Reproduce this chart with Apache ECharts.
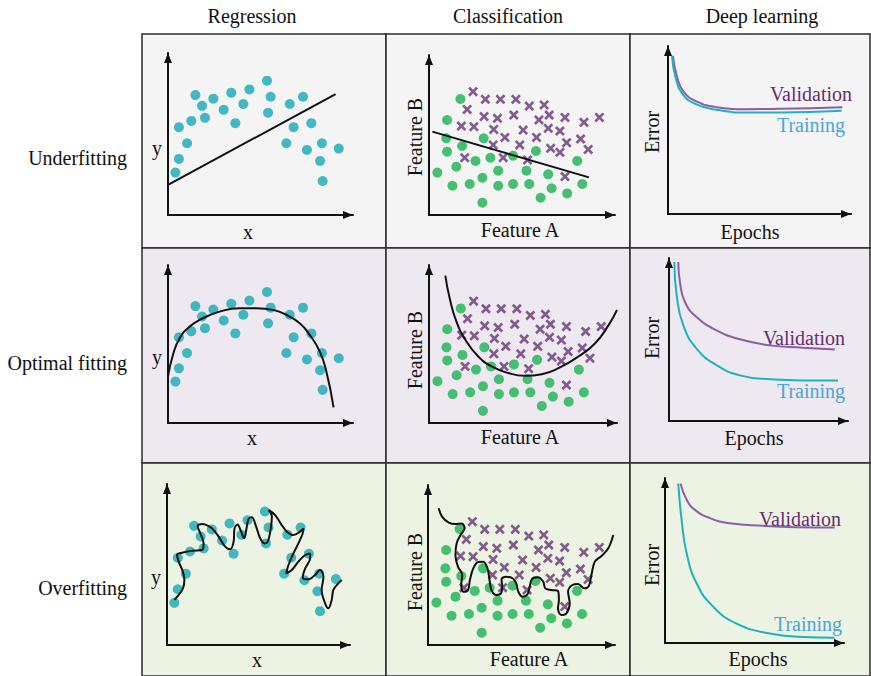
<!DOCTYPE html>
<html>
<head>
<meta charset="utf-8">
<script src="https://cdn.jsdelivr.net/npm/echarts@6/dist/echarts.min.js"></script>
<style>
  html, body { margin: 0; padding: 0; background: #ffffff; }
  #chart { width: 871px; height: 676px; }
</style>
</head>
<body>
<div id="chart"></div>
<script>
// ---- Labels ----
const columnTitles = ['Regression', 'Classification', 'Deep learning'];
const rowTitles = ['Underfitting', 'Optimal fitting', 'Overfitting'];
const regressionAxisNames = ['x', 'y'];
const classificationAxisNames = ['Feature A', 'Feature B'];
const learningAxisNames = ['Epochs', 'Error'];
const curveNames = ['Validation', 'Training'];

// ---- Regression: noisy samples (x, y) on a 0–10 scale ----
const regressionPoints = [
  [0.40, 2.62], [0.59, 3.46], [1.03, 4.43], [0.59, 5.42], [1.26, 5.81],
  [1.48, 7.40], [1.84, 6.74], [2.00, 6.00], [2.45, 7.18], [3.01, 6.49],
  [3.42, 7.55], [3.64, 5.67], [4.07, 6.85], [4.40, 7.75], [5.35, 8.29],
  [5.55, 7.30], [5.41, 6.31], [6.58, 6.85], [7.30, 7.30], [6.79, 5.42],
  [6.40, 4.43], [7.75, 5.67], [7.51, 4.02], [8.32, 4.43], [8.22, 3.34],
  [9.23, 4.10], [8.36, 2.10]
];
// Fitted models
const regressionUnderfit = [[0, 1.86], [9.06, 7.46]];
const regressionOptimal = [
  [0, 2.95], [0.27, 4.32], [0.63, 5.37], [1.17, 6.10], [1.89, 6.63],
  [2.79, 7.05], [3.87, 7.26], [4.77, 7.26], [5.68, 7.16], [6.40, 6.84],
  [7.12, 6.32], [7.66, 5.58], [8.20, 4.53], [8.56, 3.26], [8.95, 0.99]
];
const regressionOverfit = [
  [0.40, 2.80], [0.64, 3.11], [0.87, 3.52], [0.95, 4.04], [0.87, 4.55],
  [0.64, 5.18], [0.55, 5.59], [0.82, 5.73], [1.36, 5.86], [1.91, 5.90],
  [2.00, 6.31], [1.82, 6.94], [1.67, 7.39], [1.91, 7.52], [2.45, 7.25],
  [2.82, 6.73], [3.18, 6.11], [3.45, 5.94], [3.64, 6.42], [3.69, 7.25],
  [3.85, 7.49], [4.05, 7.04], [4.22, 6.63], [4.33, 7.14], [4.45, 7.81],
  [4.64, 7.93], [4.87, 7.35], [5.09, 6.63], [5.33, 6.31], [5.51, 6.42],
  [5.67, 7.25], [5.73, 7.97], [5.55, 8.39], [5.91, 8.07], [6.27, 7.45],
  [6.55, 7.04], [6.91, 6.83], [7.27, 7.04], [7.45, 7.25], [7.42, 6.94],
  [7.18, 6.31], [6.91, 5.69], [6.64, 4.97], [6.51, 4.45], [6.82, 4.66],
  [7.18, 5.18], [7.55, 5.59], [7.82, 5.69], [7.82, 5.38], [7.55, 4.76],
  [7.42, 4.20], [7.73, 4.08], [8.09, 4.35], [8.36, 4.66], [8.55, 4.24],
  [8.45, 3.42], [8.64, 2.59], [8.82, 2.28], [9.00, 2.80], [9.09, 3.42],
  [9.36, 3.83], [9.55, 4.04]
];

// ---- Classification: two classes in (Feature A, Feature B) ----
const circleClass = [
  [1.69, 7.25], [0.97, 5.94], [0.93, 4.79], [0.97, 3.96], [1.78, 4.31],
  [2.94, 4.79], [0.45, 2.65], [1.47, 3.02], [2.50, 3.38], [3.30, 3.58],
  [4.52, 3.71], [5.75, 4.00], [3.72, 2.77], [5.24, 2.77], [6.41, 2.54],
  [7.97, 3.38], [1.26, 1.83], [2.19, 1.94], [2.87, 2.33], [3.72, 1.83],
  [4.52, 1.94], [5.39, 1.94], [6.59, 1.67], [8.24, 1.94], [7.43, 1.35],
  [6.00, 1.08], [2.87, 0.77]
];
const crossClass = [
  [2.37, 7.71], [2.05, 6.60], [3.03, 7.23], [3.84, 7.23], [4.67, 7.23],
  [5.39, 6.81], [6.19, 6.88], [6.46, 6.25], [7.31, 6.10], [8.33, 5.79],
  [9.16, 6.10], [1.74, 5.56], [2.41, 5.52], [2.96, 6.15], [3.68, 6.04],
  [4.56, 6.25], [5.91, 5.94], [6.41, 5.42], [7.04, 5.25], [3.48, 5.35],
  [4.08, 4.85], [5.06, 5.31], [5.78, 4.85], [7.40, 4.52], [8.15, 4.75],
  [8.56, 4.10], [3.45, 4.38], [4.88, 4.38], [6.54, 4.17], [7.04, 3.92],
  [1.92, 3.58], [3.99, 3.58], [5.30, 3.44], [7.31, 2.40]
];
// Decision boundaries
const boundaryUnderfit = [[0.18, 5.21], [8.60, 2.35]];
const boundaryOptimal = [
  [0.87, 9.33], [1.10, 7.89], [1.46, 6.42], [1.99, 5.16], [2.62, 4.21],
  [3.33, 3.58], [4.22, 3.16], [5.11, 2.99], [6.00, 3.09], [6.89, 3.47],
  [7.95, 4.21], [8.84, 5.05], [9.56, 6.21], [10.0, 7.16]
];
const boundaryOverfit = [
  [0.57, 8.54], [0.75, 8.02], [1.11, 7.65], [1.47, 7.56], [1.80, 7.60],
  [1.96, 7.29], [1.74, 6.88], [1.53, 6.35], [1.47, 5.63], [1.60, 4.90],
  [1.83, 4.38], [1.78, 3.75], [1.89, 3.33], [2.14, 3.44], [2.24, 4.06],
  [2.42, 4.79], [2.68, 5.19], [2.96, 5.21], [3.18, 4.79], [3.29, 4.06],
  [3.39, 3.44], [3.63, 3.13], [3.90, 3.23], [3.97, 3.69], [3.93, 4.10],
  [4.17, 4.27], [4.52, 4.17], [4.72, 3.85], [4.83, 3.33], [5.06, 3.02],
  [5.33, 3.19], [5.44, 3.65], [5.55, 4.10], [5.87, 4.23], [6.16, 3.96],
  [6.27, 3.54], [6.59, 3.44], [6.95, 3.38], [7.00, 2.81], [6.95, 2.29],
  [7.13, 1.88], [7.40, 1.98], [7.58, 2.60], [7.49, 3.33], [7.72, 3.75],
  [8.03, 3.81], [8.35, 3.54], [8.60, 3.69], [8.74, 4.38], [8.92, 5.21],
  [9.28, 5.56], [9.64, 6.04], [9.91, 6.88]
];

// ---- Deep learning: error vs. epochs ----
const validationUnderfit = [
  [0.27, 9.41], [0.49, 8.18], [0.85, 7.29], [1.58, 6.69], [2.67, 6.36],
  [4.31, 6.24], [6.13, 6.26], [9.53, 6.36]
];
const trainingUnderfit = [
  [0.22, 9.41], [0.40, 8.18], [0.76, 7.19], [1.49, 6.55], [2.67, 6.20],
  [4.31, 6.04], [6.13, 6.04], [9.49, 6.14]
];
const validationOptimal = [
  [0.52, 9.75], [0.61, 8.53], [0.89, 7.30], [1.54, 6.38], [2.66, 5.56],
  [3.96, 5.01], [5.63, 4.64], [7.49, 4.50], [9.26, 4.38]
];
const trainingOptimal = [
  [0.30, 9.75], [0.43, 7.71], [0.80, 5.87], [1.54, 4.44], [2.66, 3.42],
  [3.96, 2.80], [5.63, 2.56], [7.49, 2.49], [9.44, 2.49]
];
const validationOverfit = [
  [0.87, 9.66], [1.21, 8.68], [1.67, 8.07], [2.51, 7.57], [3.62, 7.26],
  [5.48, 7.10], [7.34, 7.02], [9.48, 7.00]
];
const trainingOverfit = [
  [0.74, 9.66], [0.93, 7.46], [1.21, 5.44], [1.77, 3.61], [2.70, 2.19],
  [4.00, 1.18], [5.86, 0.57], [7.71, 0.37], [9.48, 0.32]
];

// ---- Layout and styling ----
const SERIF = "'Liberation Serif', 'DejaVu Serif', serif";
const INK = '#111111';
const TEAL = '#14a9b8';
const GREEN = '#19b350';
const PURPLE = '#683477';
const TRAIN_LINE = '#1fb1c1';
const VALID_LINE = '#8b5ea5';
const TRAIN_TEXT = '#4aa6d9';
const VALID_TEXT = '#6a2c70';
const rowFills = ['#f4f4f4', '#eee9f1', '#ecf3e2'];
const colEdges = [142, 386, 630, 870];
const rowEdges = [34, 248, 463, 676];

// Plot area of each panel: [left, top, width, height], origin at the axis corner
const panelGrids = [
  [[168, 53, 185, 162], [429, 55, 186, 160], [668, 46, 183, 168]],
  [[168, 265, 185, 158], [429, 265, 188, 158], [669, 258, 179, 163]],
  [[167, 484, 183, 161], [428, 485, 187, 160], [665, 478, 179, 165]]
];
// Axis-name anchors per panel: [x-name pos, y-name pos]
const axisNamePos = [
  [[[248, 232], [157, 148]], [[520, 230], [415, 137]], [[750, 232], [652, 132]]],
  [[[252, 438], [157, 357]], [[520, 437], [415, 350]], [[754, 438], [652, 338]]],
  [[[257, 660], [156, 577]], [[529, 659], [415, 572]], [[758, 659], [652, 565]]]
];
const curveLabelPos = [
  [[811, 94], [811, 125]],
  [[804, 338], [811, 391]],
  [[800, 519], [808, 624]]
];

const regressionFits = [regressionUnderfit, regressionOptimal, regressionOverfit];
const boundaries = [boundaryUnderfit, boundaryOptimal, boundaryOverfit];
const validationCurves = [validationUnderfit, validationOptimal, validationOverfit];
const trainingCurves = [trainingUnderfit, trainingOptimal, trainingOverfit];

// Bold "x" marker for the second class
const CROSS = 'path://M1.9,0 L5,3.1 L8.1,0 L10,1.9 L6.9,5 L10,8.1 L8.1,10 L5,6.9 L1.9,10 L0,8.1 L3.1,5 L0,1.9 Z';

const grids = [], xAxes = [], yAxes = [], series = [], graphics = [];

function axisBase(gridIndex) {
  return {
    gridIndex: gridIndex,
    type: 'value',
    min: 0,
    max: 10,
    axisLine: {
      show: true,
      onZero: false,
      lineStyle: { color: INK, width: 2 },
      symbol: ['none', 'triangle'],
      symbolSize: [8, 10],
      symbolOffset: [0, -5]
    },
    axisTick: { show: false },
    axisLabel: { show: false },
    splitLine: { show: false }
  };
}

function textEl(text, pos, opts) {
  opts = opts || {};
  return {
    type: 'text',
    x: pos[0],
    y: pos[1],
    rotation: opts.rotation || 0,
    z: 10,
    style: {
      text: text,
      font: (opts.size || 20) + 'px ' + SERIF,
      fill: opts.color || INK,
      align: opts.align || 'center',
      verticalAlign: 'middle'
    }
  };
}

// Panel backgrounds and frame
for (let r = 0; r < 3; r++) {
  for (let c = 0; c < 3; c++) {
    graphics.push({
      type: 'rect',
      z: -10,
      shape: {
        x: colEdges[c], y: rowEdges[r],
        width: colEdges[c + 1] - colEdges[c],
        height: rowEdges[r + 1] - rowEdges[r]
      },
      style: { fill: rowFills[r], stroke: '#2b2b2b', lineWidth: 1.5 }
    });
  }
}

// Column and row headings
const headerX = [252, 508, 762];
columnTitles.forEach((t, i) => graphics.push(textEl(t, [headerX[i], 16], { size: 20 })));
const rowLabelY = [158, 363, 588];
rowTitles.forEach((t, i) => graphics.push(textEl(t, [127, rowLabelY[i]], { size: 20, align: 'right' })));

const axisNameSets = [regressionAxisNames, classificationAxisNames, learningAxisNames];

for (let r = 0; r < 3; r++) {
  for (let c = 0; c < 3; c++) {
    const gi = grids.length;
    const g = panelGrids[r][c];
    grids.push({ left: g[0], top: g[1], width: g[2], height: g[3] });
    xAxes.push(axisBase(gi));
    yAxes.push(axisBase(gi));

    const names = axisNameSets[c];
    graphics.push(textEl(names[0], axisNamePos[r][c][0]));
    graphics.push(textEl(names[1], axisNamePos[r][c][1], { rotation: c === 0 ? 0 : Math.PI / 2 }));

    if (c === 0) {
      series.push({
        type: 'scatter', xAxisIndex: gi, yAxisIndex: gi,
        data: regressionPoints, symbol: 'circle', symbolSize: 10,
        itemStyle: { color: TEAL }, z: 2
      });
      series.push({
        type: 'line', xAxisIndex: gi, yAxisIndex: gi,
        data: regressionFits[r], symbol: 'none',
        smooth: r === 0 ? false : (r === 1 ? 0.5 : 0.35),
        lineStyle: { color: INK, width: 2 }, z: 3
      });
    } else if (c === 1) {
      series.push({
        type: 'scatter', xAxisIndex: gi, yAxisIndex: gi,
        data: circleClass, symbol: 'circle', symbolSize: 10,
        itemStyle: { color: GREEN }, z: 2
      });
      series.push({
        type: 'scatter', xAxisIndex: gi, yAxisIndex: gi,
        data: crossClass, symbol: CROSS, symbolSize: 10,
        itemStyle: { color: PURPLE }, z: 2
      });
      series.push({
        type: 'line', xAxisIndex: gi, yAxisIndex: gi,
        data: boundaries[r], symbol: 'none',
        smooth: r === 0 ? false : (r === 1 ? 0.5 : 0.35),
        lineStyle: { color: INK, width: 2 }, z: 3
      });
    } else {
      series.push({
        type: 'line', xAxisIndex: gi, yAxisIndex: gi,
        data: validationCurves[r], symbol: 'none', smooth: 0.5,
        lineStyle: { color: VALID_LINE, width: 2 }, z: 3
      });
      series.push({
        type: 'line', xAxisIndex: gi, yAxisIndex: gi,
        data: trainingCurves[r], symbol: 'none', smooth: 0.5,
        lineStyle: { color: TRAIN_LINE, width: 2 }, z: 3
      });
      graphics.push(textEl(curveNames[0], curveLabelPos[r][0], { color: VALID_TEXT }));
      graphics.push(textEl(curveNames[1], curveLabelPos[r][1], { color: TRAIN_TEXT }));
    }
  }
}

const chart = echarts.init(document.getElementById('chart'), null, { renderer: 'svg' });
chart.setOption({
  backgroundColor: '#ffffff',
  animation: false,
  grid: grids,
  xAxis: xAxes,
  yAxis: yAxes,
  series: series,
  graphic: { elements: graphics }
});
</script>
</body>
</html>
